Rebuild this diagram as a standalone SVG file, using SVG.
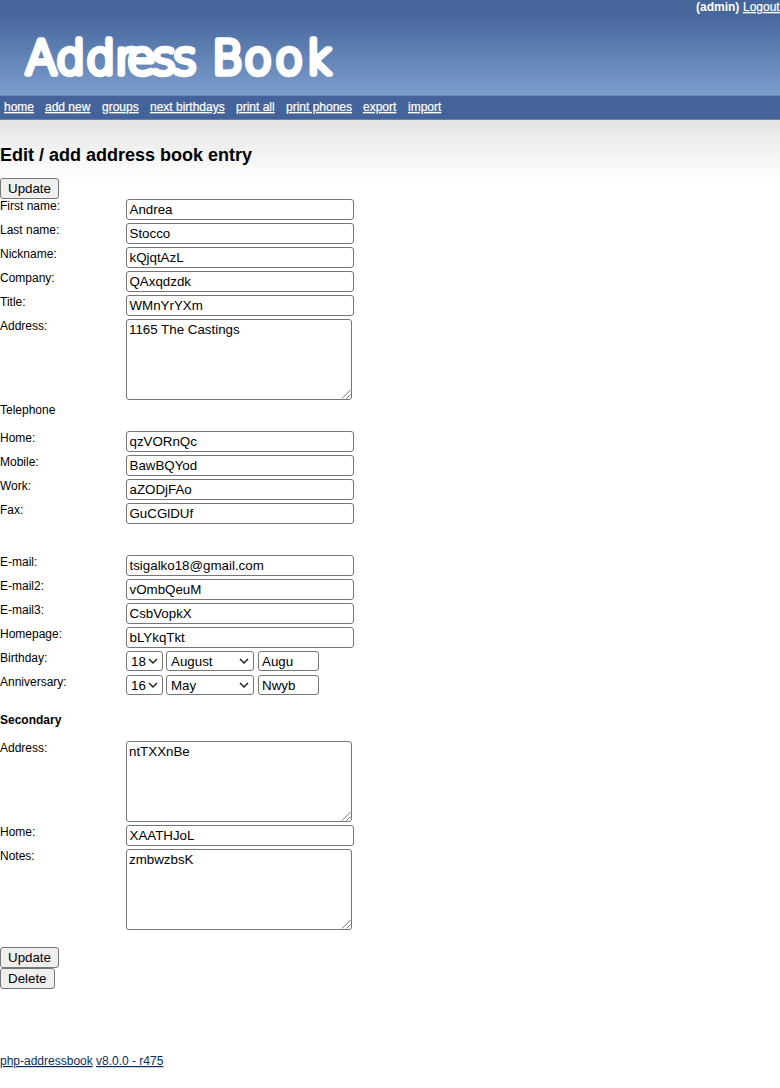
<svg xmlns="http://www.w3.org/2000/svg" width="780" height="1088" viewBox="0 0 780 1088">
<style>
text{font-family:"Liberation Sans",Arial,sans-serif;fill:#000}
.l{font-size:12px}
.v{font-size:13.33px}
.n{font-size:12px;fill:#fff;stroke:#fff;stroke-width:.2;text-decoration:underline}
.f{fill:#fff;stroke:#767676;stroke-width:1}
.b{fill:#efefef;stroke:#767676;stroke-width:1}
.c{fill:none;stroke:#222;stroke-width:1.5}
.g{fill:none;stroke:#777;stroke-width:1}
.a{font-size:12px;fill:#0a2d5e;text-decoration:underline}
</style>
<defs>
<linearGradient id="hd" x1="0" y1="0" x2="0" y2="1"><stop offset="0" stop-color="#45659b"/><stop offset=".15" stop-color="#46669c"/><stop offset="1" stop-color="#7c9ecd"/></linearGradient>
<linearGradient id="sh" x1="0" y1="0" x2="0" y2="1"><stop offset="0" stop-color="#e4e4e4"/><stop offset="1" stop-color="#fff"/></linearGradient>
</defs>
<rect width="780" height="1088" fill="#fff"/>
<rect y="120" width="780" height="60" fill="url(#sh)"/>
<rect width="780" height="95" fill="url(#hd)"/>
<rect y="95" width="780" height="25" fill="#44639a"/>
<rect y="95" width="780" height="1" fill="#6785b5"/>
<rect y="119" width="780" height="1" fill="#6a83ab"/>
<text x="696" y="11" style="font-size:12px;font-weight:bold;fill:#fff">(admin)</text>
<text x="743" y="11" class="n">Logout</text>
<text x="25.600 56 86 115 127 152 173 200 212 244 275 305" y="74" style="font-family:'DejaVu Sans',sans-serif;font-size:46px;font-weight:200;fill:#fff;stroke:#fff;stroke-width:5.5;stroke-linejoin:round;stroke-linecap:round">Address Book</text>
<g id="nav">
<text x="4" y="111" class="n">home</text>
<text x="45" y="111" class="n">add new</text>
<text x="102" y="111" class="n">groups</text>
<text x="150" y="111" class="n">next birthdays</text>
<text x="236" y="111" class="n">print all</text>
<text x="286" y="111" class="n">print phones</text>
<text x="363" y="111" class="n">export</text>
<text x="408" y="111" class="n">import</text>
</g>
<text x="0" y="161" style="font-size:18px;font-weight:bold">Edit / add address book entry</text>
<g id="labels">
<text x="0" y="210" class="l">First name:</text>
<text x="0" y="234" class="l">Last name:</text>
<text x="0" y="258" class="l">Nickname:</text>
<text x="0" y="282" class="l">Company:</text>
<text x="0" y="306" class="l">Title:</text>
<text x="0" y="330" class="l">Address:</text>
<text x="0" y="414" class="l">Telephone</text>
<text x="0" y="442" class="l">Home:</text>
<text x="0" y="466" class="l">Mobile:</text>
<text x="0" y="490" class="l">Work:</text>
<text x="0" y="514" class="l">Fax:</text>
<text x="0" y="566" class="l">E-mail:</text>
<text x="0" y="590" class="l">E-mail2:</text>
<text x="0" y="614" class="l">E-mail3:</text>
<text x="0" y="638" class="l">Homepage:</text>
<text x="0" y="662" class="l">Birthday:</text>
<text x="0" y="686" class="l">Anniversary:</text>
<text x="0" y="724" class="l" style="font-weight:bold">Secondary</text>
<text x="0" y="752" class="l">Address:</text>
<text x="0" y="836" class="l">Home:</text>
<text x="0" y="860" class="l">Notes:</text>
</g>
<g id="inputs">
<rect x="126.5" y="199.5" width="227" height="20" rx="2.5" class="f"/><text x="129.5" y="214" class="v">Andrea</text>
<rect x="126.5" y="223.5" width="227" height="20" rx="2.5" class="f"/><text x="129.5" y="238" class="v">Stocco</text>
<rect x="126.5" y="247.5" width="227" height="20" rx="2.5" class="f"/><text x="129.5" y="262" class="v">kQjqtAzL</text>
<rect x="126.5" y="271.5" width="227" height="20" rx="2.5" class="f"/><text x="129.5" y="286" class="v">QAxqdzdk</text>
<rect x="126.5" y="295.5" width="227" height="20" rx="2.5" class="f"/><text x="129.5" y="310" class="v">WMnYrYXm</text>
<rect x="126.5" y="319.5" width="225" height="80" rx="2.5" class="f"/><text x="129" y="334" class="v">1165 The Castings</text>
<path d="M342 398.500L350.500 390M346.500 398.500L350.500 394.500" class="g"/>
<rect x="126.5" y="431.500" width="227" height="20" rx="2.5" class="f"/><text x="129.5" y="446" class="v">qzVORnQc</text>
<rect x="126.5" y="455.500" width="227" height="20" rx="2.5" class="f"/><text x="129.5" y="470" class="v">BawBQYod</text>
<rect x="126.5" y="479.500" width="227" height="20" rx="2.5" class="f"/><text x="129.5" y="494" class="v">aZODjFAo</text>
<rect x="126.5" y="503.500" width="227" height="20" rx="2.5" class="f"/><text x="129.5" y="518" class="v">GuCGlDUf</text>
<rect x="126.5" y="555.500" width="227" height="20" rx="2.5" class="f"/><text x="129.5" y="570" class="v">tsigalko18@gmail.com</text>
<rect x="126.5" y="579.500" width="227" height="20" rx="2.5" class="f"/><text x="129.5" y="594" class="v">vOmbQeuM</text>
<rect x="126.5" y="603.500" width="227" height="20" rx="2.5" class="f"/><text x="129.5" y="618" class="v">CsbVopkX</text>
<rect x="126.5" y="627.500" width="227" height="20" rx="2.5" class="f"/><text x="129.5" y="642" class="v">bLYkqTkt</text>
<rect x="126.5" y="651.500" width="36" height="19" rx="2.5" class="f"/><text x="131" y="666" class="v">18</text><path d="M149 659l4 4 4-4" class="c"/>
<rect x="166.500" y="651.500" width="87" height="19" rx="2.5" class="f"/><text x="171" y="666" class="v">August</text><path d="M240 659l4 4 4-4" class="c"/>
<rect x="258.500" y="651.500" width="60" height="19" rx="2.5" class="f"/><text x="262" y="666" class="v">Augu</text>
<rect x="126.5" y="675.500" width="36" height="19" rx="2.5" class="f"/><text x="131" y="690" class="v">16</text><path d="M149 683l4 4 4-4" class="c"/>
<rect x="166.500" y="675.500" width="87" height="19" rx="2.5" class="f"/><text x="171" y="690" class="v">May</text><path d="M240 683l4 4 4-4" class="c"/>
<rect x="258.500" y="675.500" width="60" height="19" rx="2.5" class="f"/><text x="262" y="690" class="v">Nwyb</text>
<rect x="126.5" y="741.500" width="225" height="80" rx="2.5" class="f"/><text x="129" y="756" class="v">ntTXXnBe</text>
<path d="M342 820.500L350.500 812M346.500 820.500L350.500 816.500" class="g"/>
<rect x="126.5" y="825.500" width="227" height="20" rx="2.5" class="f"/><text x="129.5" y="840" class="v">XAATHJoL</text>
<rect x="126.5" y="849.500" width="225" height="80" rx="2.5" class="f"/><text x="129" y="864" class="v">zmbwzbsK</text>
<path d="M342 928.500L350.500 920M346.500 928.500L350.500 924.500" class="g"/>
</g>
<g id="buttons">
<rect x="0.500" y="178.500" width="58" height="20" rx="2.5" class="b"/><text x="8" y="193" class="v">Update</text>
<rect x="0.500" y="947.500" width="58" height="20" rx="2.5" class="b"/><text x="8" y="962" class="v">Update</text>
<rect x="0.500" y="968.500" width="54" height="20" rx="2.5" class="b"/><text x="8" y="983" class="v">Delete</text>
</g>
<text x="0" y="1065" class="a">php-addressbook</text>
<text x="96" y="1065" class="a">v8.0.0 - r475</text>
</svg>
